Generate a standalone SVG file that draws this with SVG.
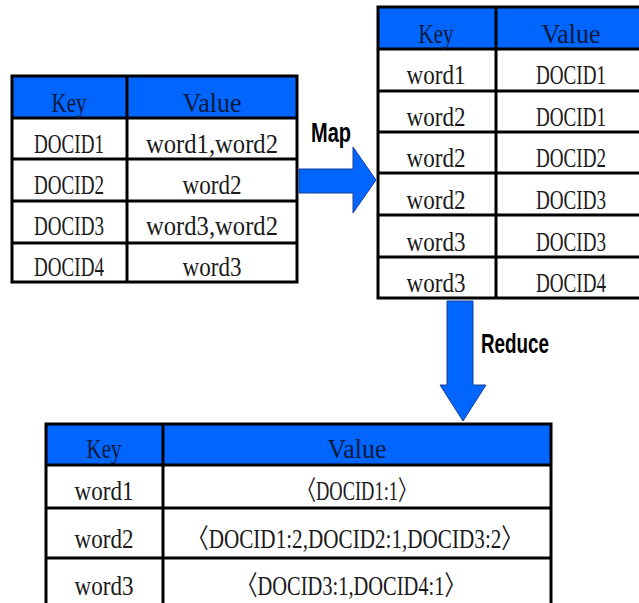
<svg xmlns="http://www.w3.org/2000/svg" width="639" height="603" viewBox="0 0 639 603">
<style>
.hdr{fill:#0066FF;}
.cell{fill:#FFFFFF;}
.ln{stroke:#000;stroke-width:3;fill:none;}
.t{font-family:"Liberation Serif","Noto Sans CJK SC",serif;font-size:27px;fill:#1a1a1a;text-anchor:middle;}
.th{font-family:"Liberation Serif","Noto Sans CJK SC",serif;font-size:28px;fill:#0a1a3a;text-anchor:middle;}
.lbl{font-family:"Liberation Sans",Arial,sans-serif;font-weight:bold;font-size:28px;fill:#000;}
.arr{fill:#0066FF;stroke:#1a3f99;stroke-width:1;}
</style>
<g id="table-input">
<rect class="cell" x="12" y="76" width="285" height="206"/>
<rect class="hdr" x="12" y="76" width="285" height="42"/>
<rect class="ln" x="12" y="76" width="285" height="206"/>
<line class="ln" x1="127" y1="76" x2="127" y2="282"/>
<line class="ln" x1="12" y1="118" x2="297" y2="118"/>
<line class="ln" x1="12" y1="159" x2="297" y2="159"/>
<line class="ln" x1="12" y1="201" x2="297" y2="201"/>
<line class="ln" x1="12" y1="243" x2="297" y2="243"/>
<text class="th" x="69" y="112" textLength="35" lengthAdjust="spacingAndGlyphs">Key</text>
<text class="th" x="212" y="112" textLength="59" lengthAdjust="spacingAndGlyphs">Value</text>
<text class="t" x="69" y="153" textLength="70" lengthAdjust="spacingAndGlyphs">DOCID1</text>
<text class="t" x="212" y="153" textLength="132" lengthAdjust="spacingAndGlyphs">word1,word2</text>
<text class="t" x="69" y="194" textLength="70" lengthAdjust="spacingAndGlyphs">DOCID2</text>
<text class="t" x="212" y="194" textLength="59" lengthAdjust="spacingAndGlyphs">word2</text>
<text class="t" x="69" y="235" textLength="70" lengthAdjust="spacingAndGlyphs">DOCID3</text>
<text class="t" x="212" y="235" textLength="132" lengthAdjust="spacingAndGlyphs">word3,word2</text>
<text class="t" x="69" y="276" textLength="70" lengthAdjust="spacingAndGlyphs">DOCID4</text>
<text class="t" x="212" y="276" textLength="59" lengthAdjust="spacingAndGlyphs">word3</text>
</g>
<g id="table-map">
<rect class="cell" x="378" y="7" width="272" height="291"/>
<rect class="hdr" x="378" y="7" width="272" height="42"/>
<rect class="ln" x="378" y="7" width="272" height="291"/>
<line class="ln" x1="496" y1="7" x2="496" y2="298"/>
<line class="ln" x1="378" y1="49" x2="650" y2="49"/>
<line class="ln" x1="378" y1="91" x2="650" y2="91"/>
<line class="ln" x1="378" y1="132" x2="650" y2="132"/>
<line class="ln" x1="378" y1="173" x2="650" y2="173"/>
<line class="ln" x1="378" y1="215" x2="650" y2="215"/>
<line class="ln" x1="378" y1="257" x2="650" y2="257"/>
<text class="th" x="436" y="43" textLength="35" lengthAdjust="spacingAndGlyphs">Key</text>
<text class="th" x="571" y="43" textLength="59" lengthAdjust="spacingAndGlyphs">Value</text>
<text class="t" x="436" y="84" textLength="59" lengthAdjust="spacingAndGlyphs">word1</text>
<text class="t" x="571" y="84" textLength="70" lengthAdjust="spacingAndGlyphs">DOCID1</text>
<text class="t" x="436" y="126" textLength="59" lengthAdjust="spacingAndGlyphs">word2</text>
<text class="t" x="571" y="126" textLength="70" lengthAdjust="spacingAndGlyphs">DOCID1</text>
<text class="t" x="436" y="167" textLength="59" lengthAdjust="spacingAndGlyphs">word2</text>
<text class="t" x="571" y="167" textLength="70" lengthAdjust="spacingAndGlyphs">DOCID2</text>
<text class="t" x="436" y="209" textLength="59" lengthAdjust="spacingAndGlyphs">word2</text>
<text class="t" x="571" y="209" textLength="70" lengthAdjust="spacingAndGlyphs">DOCID3</text>
<text class="t" x="436" y="251" textLength="59" lengthAdjust="spacingAndGlyphs">word3</text>
<text class="t" x="571" y="251" textLength="70" lengthAdjust="spacingAndGlyphs">DOCID3</text>
<text class="t" x="436" y="292" textLength="59" lengthAdjust="spacingAndGlyphs">word3</text>
<text class="t" x="571" y="292" textLength="70" lengthAdjust="spacingAndGlyphs">DOCID4</text>
</g>
<g id="table-reduce">
<rect class="cell" x="46" y="424" width="505" height="190"/>
<rect class="hdr" x="46" y="424" width="505" height="41"/>
<rect class="ln" x="46" y="424" width="505" height="190"/>
<line class="ln" x1="163" y1="424" x2="163" y2="614"/>
<line class="ln" x1="46" y1="465" x2="551" y2="465"/>
<line class="ln" x1="46" y1="508" x2="551" y2="508"/>
<line class="ln" x1="46" y1="558" x2="551" y2="558"/>
<text class="th" x="104" y="458" textLength="35" lengthAdjust="spacingAndGlyphs">Key</text>
<text class="th" x="357" y="458" textLength="59" lengthAdjust="spacingAndGlyphs">Value</text>
<text class="t" x="104" y="500" textLength="59" lengthAdjust="spacingAndGlyphs">word1</text>
<text class="t" x="357" y="500" textLength="119" lengthAdjust="spacingAndGlyphs">〈DOCID1:1〉</text>
<text class="t" x="104" y="548" textLength="59" lengthAdjust="spacingAndGlyphs">word2</text>
<text class="t" x="355" y="548" textLength="335" lengthAdjust="spacingAndGlyphs">〈DOCID1:2,DOCID2:1,DOCID3:2〉</text>
<text class="t" x="104" y="595" textLength="59" lengthAdjust="spacingAndGlyphs">word3</text>
<text class="t" x="351" y="595" textLength="228" lengthAdjust="spacingAndGlyphs">〈DOCID3:1,DOCID4:1〉</text>
</g>
<g id="connectors">
<polygon class="arr" points="299,169 353,169 353,147 376,180 353,213 353,193 299,193"/>
<text class="lbl" x="311" y="142" textLength="40" lengthAdjust="spacingAndGlyphs">Map</text>
<polygon class="arr" points="447,301 473,301 473,385 486,385 463,421 440,385 447,385"/>
<text class="lbl" x="481" y="353" textLength="68" lengthAdjust="spacingAndGlyphs">Reduce</text>
</g>
</svg>
